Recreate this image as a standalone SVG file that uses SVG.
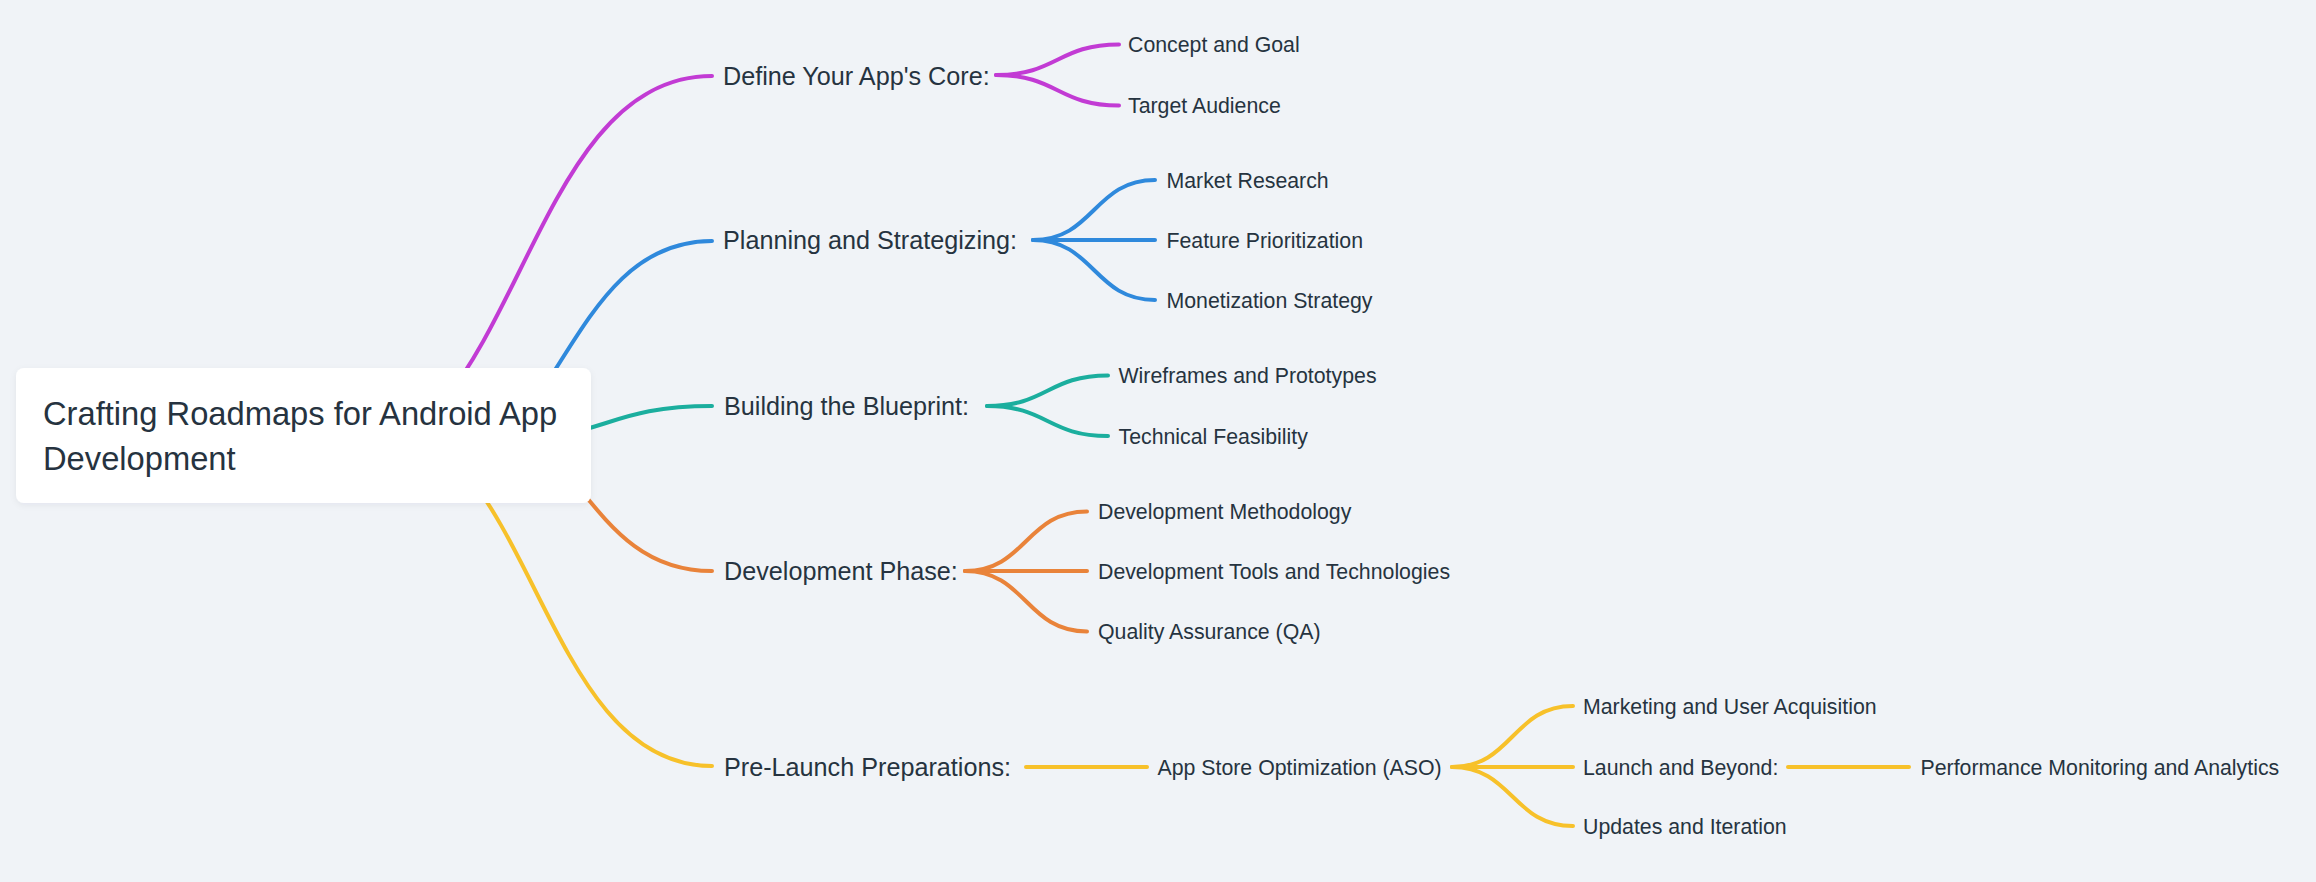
<svg xmlns="http://www.w3.org/2000/svg" width="2316" height="882" viewBox="0 0 2316 882">
  <defs>
    <style>
      .bg { fill: #f0f3f7; }
      .root-box { fill: #ffffff; }
      .t { font-family: "Liberation Sans", Arial, sans-serif; fill: #263340; }
      .t0 { font-size: 32.7px; }
      .t1 { font-size: 25.2px; }
      .t2 { font-size: 21.3px; }
      .c { fill: none; stroke-width: 4; stroke-linecap: round; }
      .purple { stroke: #c23bd4; }
      .blue { stroke: #2f89dc; }
      .teal { stroke: #1bae9e; }
      .orange { stroke: #e9833a; }
      .yellow { stroke: #f7c12a; }
    </style>
    <filter id="shadow" x="-5%" y="-10%" width="110%" height="130%">
      <feDropShadow dx="0" dy="2" stdDeviation="3" flood-color="#1b2a3a" flood-opacity="0.06"/>
    </filter>
  </defs>

  <rect class="bg" x="0" y="0" width="2316" height="882"/>

  <g id="connectors">
    <path class="c purple" d="M328,464 C520,464 520,76 712,76"/>
    <path class="c blue" d="M410,480 C561,480 561,241 712,241"/>
    <path class="c teal" d="M500,440 C606,440 606,406 712,406"/>
    <path class="c orange" d="M450,410 C581,410 581,571 712,571"/>
    <path class="c yellow" d="M358,414 C535,414 535,766 712,766"/>

    <path class="c purple" d="M996,75 C1057.5,75 1057.5,44.5 1119,44.5"/>
    <path class="c purple" d="M996,75 C1057.5,75 1057.5,105.5 1119,105.5"/>

    <path class="c blue" d="M1033,240 C1094,240 1094,180 1155,180"/>
    <path class="c blue" d="M1033,240 H1155"/>
    <path class="c blue" d="M1033,240 C1094,240 1094,300 1155,300"/>

    <path class="c teal" d="M987,406 C1047.5,406 1047.5,375.5 1108,375.5"/>
    <path class="c teal" d="M987,406 C1047.5,406 1047.5,436 1108,436"/>

    <path class="c orange" d="M965,571 C1026,571 1026,511.5 1087,511.5"/>
    <path class="c orange" d="M965,571 H1087"/>
    <path class="c orange" d="M965,571 C1026,571 1026,631.5 1087,631.5"/>

    <path class="c yellow" d="M1026,767 H1147"/>
    <path class="c yellow" d="M1452,767 C1512.5,767 1512.5,706 1573,706"/>
    <path class="c yellow" d="M1452,767 H1573"/>
    <path class="c yellow" d="M1452,767 C1512.5,767 1512.5,826 1573,826"/>
    <path class="c yellow" d="M1788,767 H1909"/>
  </g>

  <g id="root">
    <rect class="root-box" x="16" y="368" width="575" height="135" rx="8" filter="url(#shadow)"/>
    <text class="t t0" x="43" y="425">Crafting Roadmaps for Android App</text>
    <text class="t t0" x="43" y="470">Development</text>
  </g>

  <g id="n-core"><text class="t t1" x="723" y="84.5">Define Your App's Core:</text></g>
  <g id="n-concept"><text class="t t2" x="1128" y="52">Concept and Goal</text></g>
  <g id="n-audience"><text class="t t2" x="1128" y="113">Target Audience</text></g>

  <g id="n-planning"><text class="t t1" x="723" y="249">Planning and Strategizing:</text></g>
  <g id="n-market"><text class="t t2" x="1166.5" y="187.5">Market Research</text></g>
  <g id="n-feature"><text class="t t2" x="1166.5" y="247.5">Feature Prioritization</text></g>
  <g id="n-monetization"><text class="t t2" x="1166.5" y="307.5">Monetization Strategy</text></g>

  <g id="n-blueprint"><text class="t t1" x="724" y="415">Building the Blueprint:</text></g>
  <g id="n-wireframes"><text class="t t2" x="1118.5" y="383">Wireframes and Prototypes</text></g>
  <g id="n-feasibility"><text class="t t2" x="1118.5" y="443.5">Technical Feasibility</text></g>

  <g id="n-devphase"><text class="t t1" x="724" y="580">Development Phase:</text></g>
  <g id="n-methodology"><text class="t t2" x="1098" y="519">Development Methodology</text></g>
  <g id="n-tools"><text class="t t2" x="1098" y="578.5">Development Tools and Technologies</text></g>
  <g id="n-qa"><text class="t t2" x="1098" y="639">Quality Assurance (QA)</text></g>

  <g id="n-prelaunch"><text class="t t1" x="724" y="776">Pre-Launch Preparations:</text></g>
  <g id="n-aso"><text class="t t2" x="1157.5" y="774.5">App Store Optimization (ASO)</text></g>
  <g id="n-marketing"><text class="t t2" x="1583" y="713.5">Marketing and User Acquisition</text></g>
  <g id="n-launch"><text class="t t2" x="1583" y="774.5">Launch and Beyond:</text></g>
  <g id="n-updates"><text class="t t2" x="1583" y="833.5">Updates and Iteration</text></g>
  <g id="n-performance"><text class="t t2" x="1920.5" y="774.5">Performance Monitoring and Analytics</text></g>
</svg>
